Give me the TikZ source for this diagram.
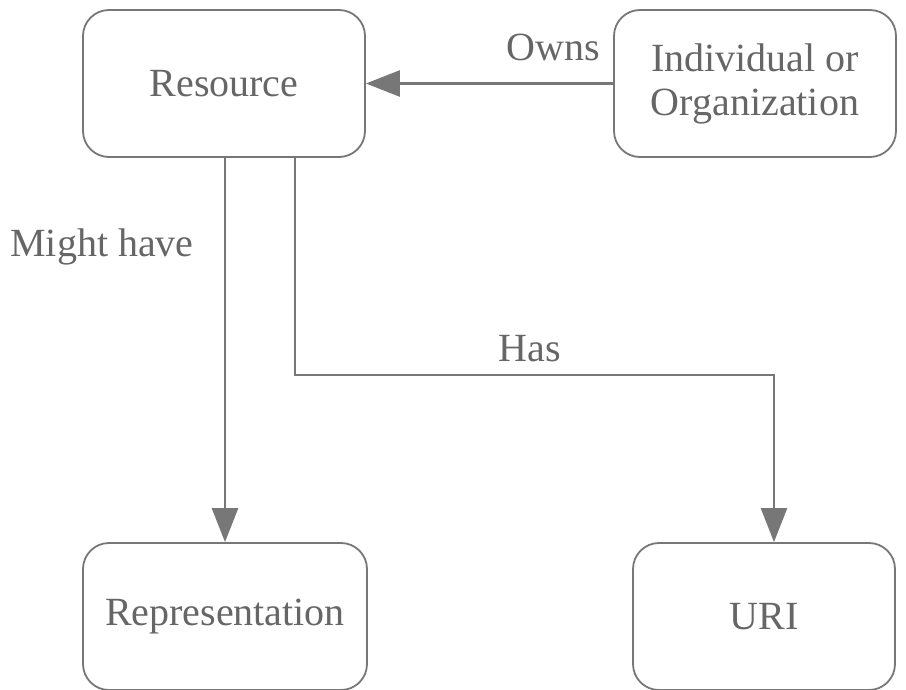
\documentclass[tikz,border=0pt]{standalone}
\usepackage{fontspec}
\setmainfont{Liberation Serif}
\usetikzlibrary{arrows.meta}
\definecolor{linegray}{HTML}{777777}
\definecolor{textgray}{HTML}{666666}
\begin{document}
\begin{tikzpicture}[x=1pt,y=-1pt,
  entity/.style={draw=linegray, line width=1.8pt, rounded corners=26pt,
    fill=white, text=textgray, align=center, inner sep=0pt,
    font=\fontsize{40}{44}\selectfont},
  link/.style={draw=linegray, line width=2.6pt,
    -{Triangle[length=34pt,width=26pt]}},
  tag/.style={text=textgray, font=\fontsize{40}{44}\selectfont, inner sep=0pt}]
\useasboundingbox (0,0) rectangle (906,690);
% entity boxes
\node[entity, minimum width=282pt, minimum height=147pt] (res) at (224,83.5) {Resource};
\node[entity, minimum width=282pt, minimum height=147pt] (own) at (755,83.5) {Individual or\\Organization};
\node[entity, minimum width=284pt, minimum height=147pt] (rep) at (225,616.5) {Representation};
\node[entity, minimum width=262pt, minimum height=147pt] (uri) at (764,616.5) {URI};
% relations
\draw[link] (own.west) -- (res.east);
\draw[link] (res.south -| 225,0) -- (rep.north -| 225,0);
\coordinate (bendA) at (295,375);
\coordinate (bendB) at (774,375);
\draw[link] (res.south -| 295,0) -- (bendA) -- (bendB) -- (uri.north -| 774,0);
% relation labels
\node[tag] (lowns) at (553,47) {Owns};
\node[tag] (lmight) at (102,247) {Might have};
\node[tag] (lhas) at (530,349) {Has};
\end{tikzpicture}
\end{document}
